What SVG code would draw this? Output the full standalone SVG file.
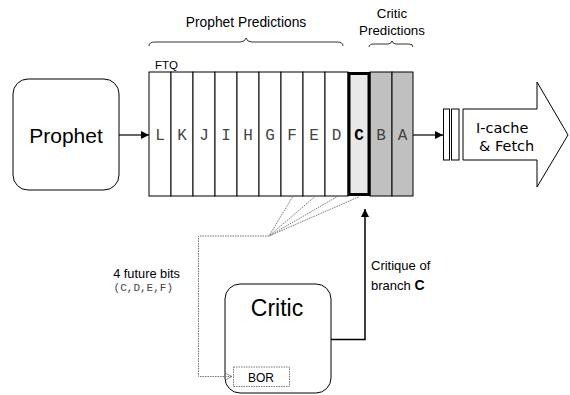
<svg xmlns="http://www.w3.org/2000/svg" width="570" height="395" viewBox="0 0 570 395">
  <defs>
    <marker id="arr" viewBox="0 0 10 10" refX="10" refY="5" markerWidth="8" markerHeight="8" markerUnits="userSpaceOnUse" orient="auto">
      <path d="M0,0 L10,5 L0,10 z" fill="#000"/>
    </marker>
    <marker id="open" viewBox="0 0 10 10" refX="10" refY="5" markerWidth="7" markerHeight="7" markerUnits="userSpaceOnUse" orient="auto">
      <path d="M0,0 L10,5 L0,10" fill="none" stroke="#777" stroke-width="1.2"/>
    </marker>
  </defs>
  <style>
    .cell { stroke: #000; stroke-width: 1; }
    .brace { fill: none; stroke: #000; stroke-width: 0.8; }
    .dot { fill: none; stroke: #777; stroke-width: 1; stroke-dasharray: 1.5 1; }
  </style>
  <rect width="570" height="395" fill="#fff"/>

  <!-- labels above the queue -->
  <g id="labels" font-family="'Liberation Sans', Arial, sans-serif" fill="#000">
    <text x="246" y="27" font-size="13.8" text-anchor="middle">Prophet Predictions</text>
    <path class="brace" d="M149,46 Q149,42 155,42 L240,42 Q245,42 246,38 Q247,42 252,42 L337,42 Q343,42 343,46"/>
    <text x="392" y="18" font-size="13.3" text-anchor="middle">Critic</text>
    <text x="392" y="35" font-size="13.3" text-anchor="middle">Predictions</text>
    <path class="brace" d="M369,47 Q369,44 374,44 L388,44 Q391,44 392,41 Q393,44 396,44 L409,44 Q413,44 413,47"/>
    <text x="155" y="69" font-size="11.5">FTQ</text>
  </g>

  <!-- Prophet -->
  <g id="prophet">
    <rect x="13" y="79" width="106" height="111" rx="15" fill="#fff" stroke="#000" stroke-width="1"/>
    <text x="66" y="143" font-family="'Liberation Sans', Arial, sans-serif" font-size="21" text-anchor="middle">Prophet</text>
  </g>

  <!-- Fetch target queue -->
  <g id="ftq">
    <rect class="cell" x="149" y="72" width="22" height="124" fill="#fff"/>
    <rect class="cell" x="171" y="72" width="22" height="124" fill="#fff"/>
    <rect class="cell" x="193" y="72" width="22" height="124" fill="#fff"/>
    <rect class="cell" x="215" y="72" width="22" height="124" fill="#fff"/>
    <rect class="cell" x="237" y="72" width="22" height="124" fill="#fff"/>
    <rect class="cell" x="259" y="72" width="22" height="124" fill="#fff"/>
    <rect class="cell" x="281" y="72" width="22" height="124" fill="#fff"/>
    <rect class="cell" x="303" y="72" width="22" height="124" fill="#fff"/>
    <rect class="cell" x="325" y="72" width="23" height="124" fill="#fff"/>
    <rect class="cell" x="370" y="72" width="22" height="124" fill="#c0c0c0"/>
    <rect class="cell" x="392" y="72" width="21" height="124" fill="#c0c0c0"/>
    <rect x="349" y="73.5" width="20" height="121" fill="#e8e8e8" stroke="#000" stroke-width="3"/>
    <g font-family="Courier, 'Liberation Mono', 'Courier New', monospace" font-size="16" fill="#444" text-anchor="middle">
      <text x="160" y="140">L</text>
      <text x="182" y="140">K</text>
      <text x="204" y="140">J</text>
      <text x="226" y="140">I</text>
      <text x="248" y="140">H</text>
      <text x="270" y="140">G</text>
      <text x="292" y="140">F</text>
      <text x="314" y="140">E</text>
      <text x="336.5" y="140">D</text>
      <text x="359" y="140" font-weight="bold" fill="#000">C</text>
      <text x="381" y="140">B</text>
      <text x="402.5" y="140">A</text>
    </g>
  </g>

  <!-- I-cache and fetch stage -->
  <g id="fetch">
    <rect x="443.5" y="109" width="6" height="51" fill="#fff" stroke="#000" stroke-width="1"/>
    <rect x="451.5" y="109" width="7.5" height="51" fill="#fff" stroke="#000" stroke-width="1"/>
    <path d="M463,109 L537,109 L537,82 L568,135 L537,187 L537,160 L463,160 Z" fill="#fff" stroke="#000" stroke-width="1"/>
    <text x="476" y="133" font-family="'DejaVu Sans', Verdana, sans-serif" font-size="14.5">I-cache</text>
    <text x="479" y="151" font-family="'DejaVu Sans', Verdana, sans-serif" font-size="14.5">&amp; Fetch</text>
  </g>

  <!-- Critic -->
  <g id="critic">
    <rect x="225" y="284" width="106" height="109" rx="15" fill="#fff" stroke="#000" stroke-width="1"/>
    <text x="277" y="316" font-family="'Liberation Sans', Arial, sans-serif" font-size="23" text-anchor="middle">Critic</text>
  </g>

  <g id="bor">
    <rect class="dot" x="233.5" y="367" width="56" height="19.5" fill="#fff" stroke="#555"/>
    <text x="261" y="382" font-family="'Liberation Sans', Arial, sans-serif" font-size="12" text-anchor="middle">BOR</text>
  </g>

  <!-- connectors -->
  <g id="connectors">
    <line x1="119" y1="135" x2="149" y2="135" stroke="#000" stroke-width="1.2" marker-end="url(#arr)"/>
    <line x1="413" y1="135" x2="443" y2="135" stroke="#000" stroke-width="1.2" marker-end="url(#arr)"/>
    <line class="dot" x1="292.5" y1="197" x2="269" y2="236"/>
    <line class="dot" x1="314.5" y1="197" x2="269" y2="236"/>
    <line class="dot" x1="336.5" y1="197" x2="269" y2="236"/>
    <line class="dot" x1="358.5" y1="197" x2="269" y2="236"/>
    <path class="dot" d="M269,236 L198.5,236 L198.5,376.5 L232,376.5" marker-end="url(#open)"/>
    <path d="M331,339.5 L365,339.5 L365,209" fill="none" stroke="#000" stroke-width="1.5" marker-end="url(#arr)"/>
  </g>

  <!-- annotations -->
  <g id="notes" font-family="'Liberation Sans', Arial, sans-serif" font-size="12.8">
    <text x="180" y="278" text-anchor="end">4 future bits</text>
    <text x="173" y="291" font-family="Courier, 'Liberation Mono', 'Courier New', monospace" font-size="11" fill="#444" text-anchor="end">(C,D,E,F)</text>
    <text x="371" y="270" font-size="13">Critique of</text>
    <text x="371" y="290" font-size="13">branch <tspan font-weight="bold" font-size="14">C</tspan></text>
  </g>
</svg>
